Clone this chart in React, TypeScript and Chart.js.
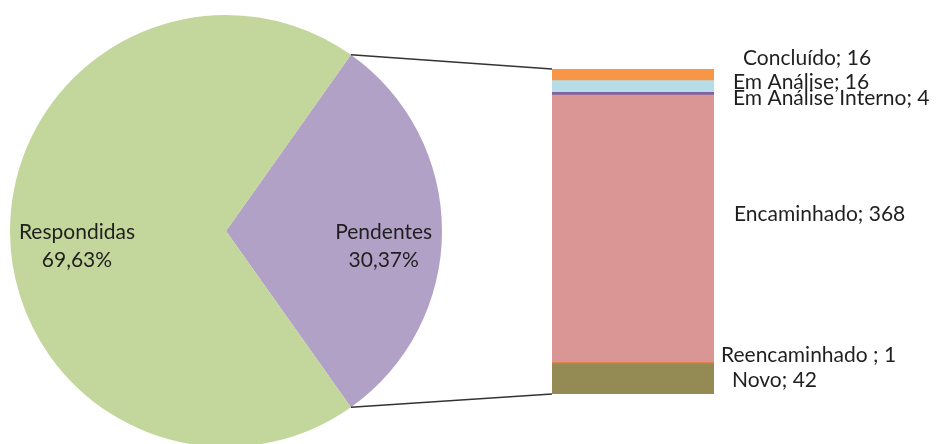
import React, { useEffect, useRef } from "react";
import { Chart, registerables } from "chart.js";

Chart.register(...registerables);

// ---- data ----
const pieCategories = ["Pendentes", "Respondidas"];
const pieShares = [30.37, 69.63];
const pieColors = ["#B2A1C7", "#C3D69B"];

const barCategories = ["Novo", "Reencaminhado ", "Encaminhado", "Em Análise Interno", "Em Análise", "Concluído"];
const barValues = [42, 1, 368, 4, 16, 16];
const barColors = ["#948A54", "#E46C0A", "#D99694", "#8064A2", "#B7DEE8", "#F79646"];

// ---- layout (label placement relative to segment) ----
const barLabelDx = [18, 7, 20, 19, 19, 29];
const barLabelDy = [8, -1.4, -8, 11.3, 2.5, -10];

const FONT = "21px Lato";
const TEXT = "#1f1f1f";

export default function App() {
  const pieRef = useRef<HTMLCanvasElement | null>(null);
  const barRef = useRef<HTMLCanvasElement | null>(null);

  useEffect(() => {
    const PIE_LEFT = 10;
    const PIE_TOP = 15;
    const pieTotal = pieShares.reduce((a, b) => a + b, 0);
    const rotation = 90 - (pieShares[0] / pieTotal) * 360 / 2;

    const pieLabels = {
      id: "pieLabels",
      afterDatasetsDraw(chart: any) {
        const ctx = chart.ctx;
        const meta = chart.getDatasetMeta(0);
        ctx.save();
        ctx.font = FONT;
        ctx.fillStyle = TEXT;
        ctx.textAlign = "center";
        ctx.textBaseline = "alphabetic";
        meta.data.forEach((arc: any, i: number) => {
          const p = arc.getProps(["x", "y", "startAngle", "endAngle", "outerRadius"], true);
          const mid = (p.startAngle + p.endAngle) / 2;
          const rr = p.outerRadius * (i === 0 ? 0.73 : 0.69);
          const cx = p.x + Math.cos(mid) * rr;
          const cy = p.y + Math.sin(mid) * rr;
          const pct = pieShares[i].toFixed(2).replace(".", ",") + "%";
          ctx.fillText(pieCategories[i], cx, cy + 8);
          ctx.fillText(pct, cx, cy + 36);
        });
        ctx.restore();
      },
    };

    const pie = new Chart(pieRef.current!, {
      type: "pie",
      data: {
        labels: pieCategories,
        datasets: [{ data: pieShares, backgroundColor: pieColors, borderWidth: 0 }],
      },
      options: {
        responsive: false,
        animation: false,
        rotation,
        layout: { padding: 0 },
        plugins: { legend: { display: false }, tooltip: { enabled: false } },
      },
      plugins: [pieLabels],
    });

    const total = barValues.reduce((a, b) => a + b, 0);

    const barDecor = {
      id: "barDecor",
      afterDatasetsDraw(chart: any) {
        const ctx = chart.ctx;
        const area = chart.chartArea;
        const arc: any = pie.getDatasetMeta(0).data[0];
        const p = arc.getProps(["x", "y", "startAngle", "endAngle", "outerRadius"], true);
        const x0 = PIE_LEFT + p.x + Math.cos(p.startAngle) * p.outerRadius;
        const y0 = PIE_TOP + p.y + Math.sin(p.startAngle) * p.outerRadius;
        const x1 = PIE_LEFT + p.x + Math.cos(p.endAngle) * p.outerRadius;
        const y1 = PIE_TOP + p.y + Math.sin(p.endAngle) * p.outerRadius;
        ctx.save();
        ctx.strokeStyle = "#333333";
        ctx.lineWidth = 1.5;
        ctx.beginPath();
        ctx.moveTo(x0, y0);
        ctx.lineTo(area.left, area.top);
        ctx.moveTo(x1, y1);
        ctx.lineTo(area.left, area.bottom);
        ctx.stroke();

        ctx.font = FONT;
        ctx.fillStyle = TEXT;
        ctx.textAlign = "left";
        ctx.textBaseline = "alphabetic";
        barValues.forEach((v, i) => {
          const el: any = chart.getDatasetMeta(i).data[0];
          const b = el.getProps(["x", "y", "base", "width"], true);
          const cy = (b.y + b.base) / 2;
          const right = b.x + b.width / 2;
          ctx.fillText(`${barCategories[i]}; ${v}`, right + barLabelDx[i], cy + barLabelDy[i]);
        });
        ctx.restore();
      },
    };

    const bar = new Chart(barRef.current!, {
      type: "bar",
      data: {
        labels: ["Pendentes"],
        datasets: barValues.map((v, i) => ({
          label: barCategories[i],
          data: [v],
          backgroundColor: barColors[i],
          borderWidth: 0,
          barPercentage: 1,
          categoryPercentage: 1,
        })),
      },
      options: {
        responsive: false,
        animation: false,
        layout: { padding: { left: 552, right: 222, top: 69, bottom: 50 } },
        scales: {
          x: { display: false, stacked: true },
          y: { display: false, stacked: true, min: 0, max: total },
        },
        plugins: { legend: { display: false }, tooltip: { enabled: false } },
      },
      plugins: [barDecor],
    });

    return () => {
      bar.destroy();
      pie.destroy();
    };
  }, []);

  return (
    <div
      style={{
        position: "fixed",
        left: 0,
        top: 0,
        width: 936,
        height: 444,
        overflow: "hidden",
        background: "#ffffff",
      }}
    >
      <canvas
        ref={pieRef}
        width={432}
        height={432}
        style={{ position: "absolute", left: 10, top: 15, width: 432, height: 432 }}
      />
      <canvas
        ref={barRef}
        width={936}
        height={444}
        style={{ position: "absolute", left: 0, top: 0, width: 936, height: 444 }}
      />
    </div>
  );
}
